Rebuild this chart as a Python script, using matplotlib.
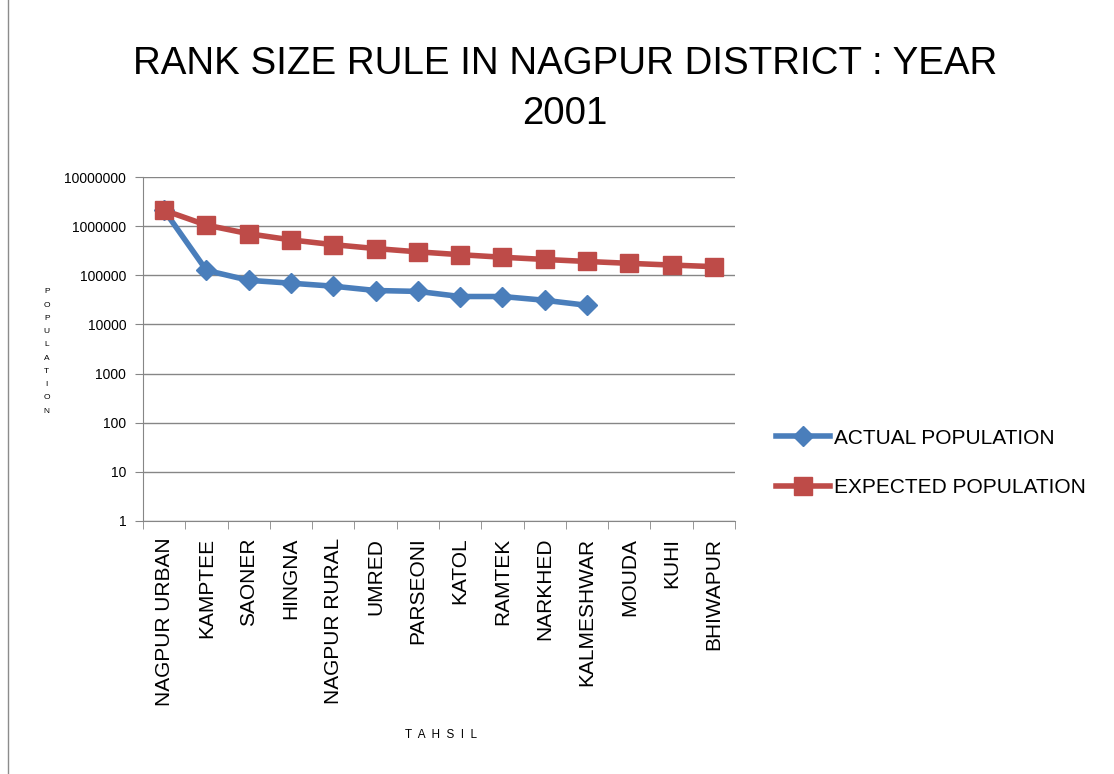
import matplotlib.pyplot as plt
from matplotlib.ticker import FixedLocator, NullLocator
from matplotlib.patches import Rectangle

plt.rcParams['font.family'] = ['Liberation Sans', 'DejaVu Sans']

tahsils = ['NAGPUR URBAN', 'KAMPTEE', 'SAONER', 'HINGNA', 'NAGPUR RURAL', 'UMRED',
           'PARSEONI', 'KATOL', 'RAMTEK', 'NARKHED', 'KALMESHWAR', 'MOUDA', 'KUHI', 'BHIWAPUR']
actual = [2100000, 126000, 79000, 69000, 60000, 49000, 47000, 37000, 37000, 31000, 24500]
expected = [2100000, 1050000, 700000, 525000, 420000, 350000, 300000, 262500,
            233000, 210000, 191000, 175000, 161500, 150000]
yticks = [1, 10, 100, 1000, 10000, 100000, 1000000, 10000000]

fig = plt.figure(figsize=(11.14, 7.74), dpi=100)
fig.patches.append(Rectangle((0.007, -0.01), 1.2, 1.2, transform=fig.transFigure,
                             fill=False, edgecolor='#8c8c8c', lw=1))
ax = fig.add_axes([0.1284, 0.3269, 0.5314, 0.4444])

blue = '#4a7ebb'
red = '#be4b48'
x = list(range(len(tahsils)))
ax.plot(x[:len(actual)], actual, color=blue, lw=4, marker='D', ms=10, label='ACTUAL POPULATION')
ax.plot(x, expected, color=red, lw=4, marker='s', ms=13, label='EXPECTED POPULATION')

ax.set_yscale('log')
ax.set_ylim(1, 10000000)
ax.yaxis.set_major_locator(FixedLocator(yticks))
ax.yaxis.set_minor_locator(NullLocator())
ax.set_yticklabels([str(v) for v in yticks], fontsize=10)
ax.grid(axis='y', color='#868686', lw=1)
ax.set_axisbelow(True)

ax.set_xlim(-0.5, len(tahsils) - 0.5)
ax.set_xticks(x)
ax.set_xticklabels(tahsils, rotation=90, fontsize=15)
ax.tick_params(axis='x', length=0, pad=12)
ax.set_xticks([i - 0.5 for i in range(len(tahsils) + 1)], minor=True)
ax.tick_params(axis='x', which='minor', length=6, color='#868686')
ax.tick_params(axis='y', length=6, color='#868686', pad=6)

for s in ['top', 'right']:
    ax.spines[s].set_visible(False)
for s in ['left', 'bottom']:
    ax.spines[s].set_color('#868686')

fig.text(0.507, 0.885, 'RANK SIZE RULE IN NAGPUR DISTRICT : YEAR\n2001', ha='center', va='center',
         fontsize=27.7, linespacing=1.5)
fig.text(0.042, 0.546, '\n'.join('POPULATION'), ha='center', va='center', fontsize=6, linespacing=2.25)
fig.text(0.396, 0.05, '  '.join('TAHSIL'), ha='center', va='center', fontsize=8.5)

fig.legend(loc='center left', bbox_to_anchor=(0.68, 0.402), frameon=False, fontsize=15,
           handlelength=2.6, labelspacing=1.45, handletextpad=0.15)

fig.savefig('out.png', dpi=100)
